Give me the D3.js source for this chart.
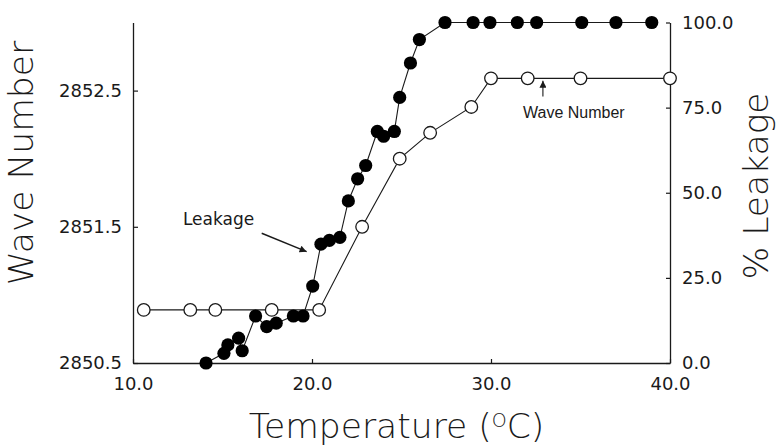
<!DOCTYPE html>
<html>
<head>
<meta charset="utf-8">
<script src="https://cdn.jsdelivr.net/npm/d3@7/dist/d3.min.js"></script>
<style>
  html, body { margin: 0; padding: 0; background: #fff; }
  svg { display: block; }
  .tick text { font-family: "DejaVu Sans", sans-serif; font-size: 18px; fill: #1a1a1a; }
</style>
</head>
<body>
<svg id="chart" width="781" height="445"></svg>
<script>
// ---- Data ----
const xTicks = [10, 20, 30, 40];
const leftTicks = [2850.5, 2851.5, 2852.5];
const rightTicks = [0, 25, 50, 75, 100];

// Wave number (open circles, left axis)
const waveTemp = [10.6, 13.2, 14.6, 17.75, 20.4, 22.8, 24.9, 26.6, 28.9, 30.0, 32.05, 35.0, 40.0];
const waveValue = [2850.89, 2850.89, 2850.89, 2850.89, 2850.89, 2851.5, 2852.0, 2852.19, 2852.38, 2852.59, 2852.59, 2852.59, 2852.59];

// % Leakage (filled circles, right axis)
const leakTemp = [14.08, 15.08, 15.3, 15.9, 16.1, 16.85, 17.47, 18.0, 18.96, 19.5, 20.04, 20.5, 20.97, 21.56,
                  22.03, 22.55, 23.0, 23.65, 24.0, 24.6, 24.9, 25.5, 26.0, 27.43, 29.0, 29.94, 31.47, 32.55,
                  35.07, 36.98, 38.98];
const leakValue = [0, 2.85, 5.3, 7.3, 3.6, 13.8, 10.7, 11.7, 13.8, 13.8, 22.6, 34.9, 36.0, 36.9,
                   47.6, 54.1, 58.0, 68.0, 66.6, 68.0, 78.0, 88.1, 95.0, 100, 100, 100, 100, 100,
                   100, 100, 100];

// Annotations (data units)
const leakLabel = { t: 12.79, v: 40.6, text: "Leakage" };
const leakArrow = { t0: 17.19, v0: 38.1, t1: 19.70, v1: 32.7 };
const waveLabel = { t: 31.79, w: 2852.30, text: "Wave Number" };
const waveArrow = { t: 32.9, w0: 2852.456, w1: 2852.573 };

// ---- Layout ----
const svg = d3.select("#chart");
const mLeft = 133, mRight = 670, mTop = 22.5, mBottom = 363;

const x = d3.scaleLinear().domain([10, 40]).range([mLeft, mRight]);
const yL = d3.scaleLinear().domain([2850.5, 2853]).range([mBottom, mTop]);
const yR = d3.scaleLinear().domain([0, 100]).range([mBottom, mTop]);

const ink = "#1a1a1a";

// defs: arrowhead
svg.append("defs").append("marker")
  .attr("id", "arrow").attr("viewBox", "0 0 10 10")
  .attr("refX", 10).attr("refY", 5)
  .attr("markerWidth", 9).attr("markerHeight", 7)
  .attr("markerUnits", "userSpaceOnUse")
  .attr("orient", "auto")
  .append("path").attr("d", "M0,0 L10,5 L0,10 z").attr("fill", ink);

// Axes
const gx = svg.append("g").attr("transform", `translate(0,${mBottom})`)
  .call(d3.axisBottom(x).tickValues(xTicks).tickFormat(d3.format(".1f"))
    .tickSizeInner(-4).tickSizeOuter(0).tickPadding(14));
const gl = svg.append("g").attr("transform", `translate(${mLeft},0)`)
  .call(d3.axisLeft(yL).tickValues(leftTicks).tickFormat(d3.format(".1f"))
    .tickSizeInner(-5).tickSizeOuter(0).tickPadding(11));
const gr = svg.append("g").attr("transform", `translate(${mRight},0)`)
  .call(d3.axisRight(yR).tickValues(rightTicks).tickFormat(d3.format(".1f"))
    .tickSizeInner(-4).tickSizeOuter(0).tickPadding(12));

[gx, gl, gr].forEach(g => {
  g.select(".domain").attr("stroke", ink).attr("stroke-width", 1.3);
  g.selectAll(".tick line").attr("stroke", ink).attr("stroke-width", 1.2);
});

// Lines
const waveData = waveTemp.map((t, i) => ({ t, v: waveValue[i] }));
const leakData = leakTemp.map((t, i) => ({ t, v: leakValue[i] }));

svg.append("path").datum(waveData)
  .attr("d", d3.line().x(d => x(d.t)).y(d => yL(d.v)))
  .attr("fill", "none").attr("stroke", ink).attr("stroke-width", 1.1);

svg.append("path").datum(leakData)
  .attr("d", d3.line().x(d => x(d.t)).y(d => yR(d.v)))
  .attr("fill", "none").attr("stroke", ink).attr("stroke-width", 1.1);

// Points
svg.append("g").selectAll("circle").data(leakData).join("circle")
  .attr("cx", d => x(d.t)).attr("cy", d => yR(d.v)).attr("r", 6.6)
  .attr("fill", "#000");

svg.append("g").selectAll("circle").data(waveData).join("circle")
  .attr("cx", d => x(d.t)).attr("cy", d => yL(d.v)).attr("r", 6.3)
  .attr("fill", "#fff").attr("stroke", ink).attr("stroke-width", 1.3);

// Annotations
svg.append("text")
  .attr("x", x(leakLabel.t)).attr("y", yR(leakLabel.v))
  .attr("font-family", "DejaVu Sans, sans-serif").attr("font-size", 17)
  .attr("fill", ink).text(leakLabel.text);
svg.append("line")
  .attr("x1", x(leakArrow.t0)).attr("y1", yR(leakArrow.v0))
  .attr("x2", x(leakArrow.t1)).attr("y2", yR(leakArrow.v1))
  .attr("stroke", ink).attr("stroke-width", 1.4).attr("marker-end", "url(#arrow)");

svg.append("text")
  .attr("x", x(waveLabel.t)).attr("y", yL(waveLabel.w))
  .attr("font-family", "Liberation Sans, Arial, sans-serif").attr("font-size", 16)
  .attr("fill", ink).text(waveLabel.text);
svg.append("line")
  .attr("x1", x(waveArrow.t)).attr("y1", yL(waveArrow.w0))
  .attr("x2", x(waveArrow.t)).attr("y2", yL(waveArrow.w1))
  .attr("stroke", ink).attr("stroke-width", 1.1).attr("marker-end", "url(#arrow)");

// Axis titles
const titleFont = "DejaVu Sans, sans-serif";
svg.append("text")
  .attr("transform", `translate(33,163) rotate(-90)`)
  .attr("text-anchor", "middle").attr("font-family", titleFont)
  .attr("font-weight", 200).attr("font-size", 34.5).attr("fill", ink)
  .text("Wave Number");

svg.append("text")
  .attr("transform", `translate(768,186) rotate(-90)`)
  .attr("text-anchor", "middle").attr("font-family", titleFont)
  .attr("font-weight", 200).attr("font-size", 34.5).attr("fill", ink)
  .text("% Leakage");

const tt = svg.append("text")
  .attr("x", 396.5).attr("y", 438)
  .attr("text-anchor", "middle").attr("font-family", titleFont)
  .attr("font-weight", 200).attr("font-size", 34.5).attr("fill", ink);
tt.append("tspan").text("Temperature (");
tt.append("tspan").attr("font-size", 19).attr("dy", -11).text("O");
tt.append("tspan").attr("dy", 11).text("C)");
</script>
</body>
</html>
